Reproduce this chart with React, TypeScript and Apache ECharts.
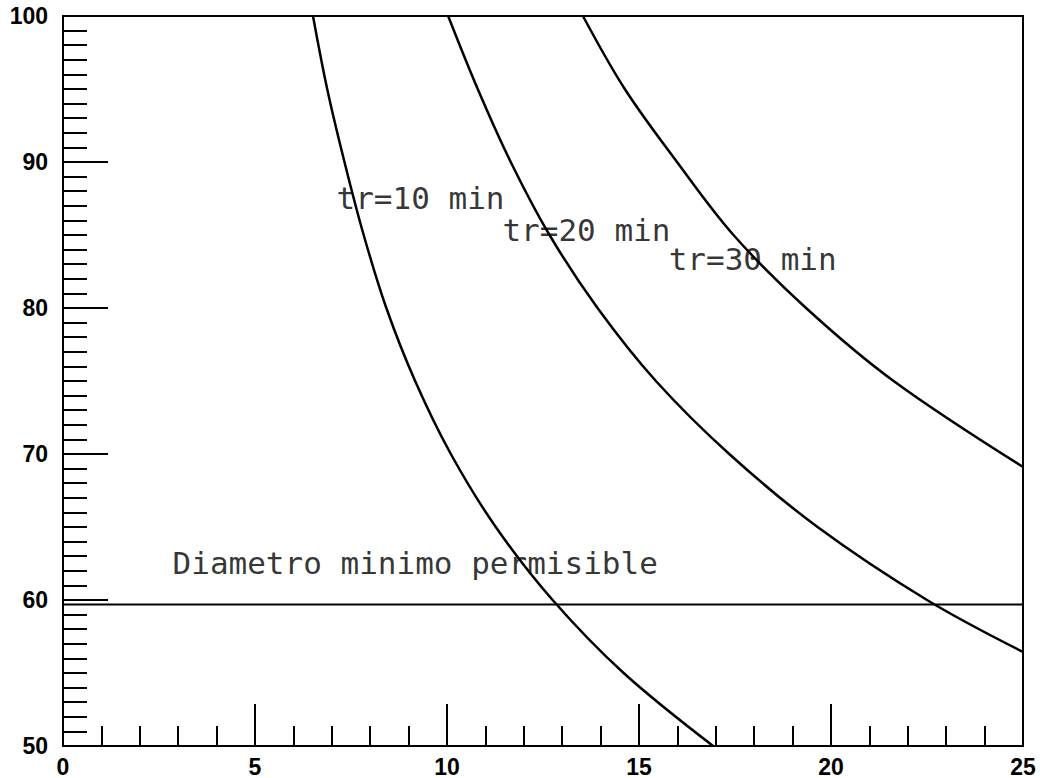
import React, { useEffect, useRef } from "react";
import * as echarts from "echarts";

// Curve tr=10 min (read as x at given diameter levels)
const tr10Y = [100, 95, 90, 85, 80, 75, 70, 65, 60, 55, 50];
const tr10X = [6.51, 6.88, 7.33, 7.83, 8.42, 9.17, 10.1, 11.27, 12.75, 14.6, 16.93];

// Curve tr=20 min
const tr20Y = [100, 95, 90, 85, 80, 75, 70, 65, 60, 56.44];
const tr20X = [10.03, 10.8, 11.66, 12.67, 13.92, 15.44, 17.35, 19.65, 22.5, 25.0];

// Curve tr=30 min
const tr30Y = [100, 95, 90, 85, 80, 75, 69.11];
const tr30X = [13.54, 14.63, 15.99, 17.46, 19.35, 21.63, 25.0];

// Minimum permissible diameter
const minDiameter = 59.7;
const xRange = [0, 25];

// Annotation labels
const annotationNames = ["tr=10 min", "tr=20 min", "tr=30 min", "Diametro minimo permisible"];
const annotationX = [7.11, 11.43, 15.76, 2.84];
const annotationY = [87.53, 85.34, 83.36, 62.53];

const zip = (xs: number[], ys: number[]) => xs.map((x, i) => [x, ys[i]]);

export default function App() {
  const ref = useRef<HTMLDivElement>(null);

  useEffect(() => {
    if (!ref.current) return;
    const chart = echarts.init(ref.current, undefined, { renderer: "svg" });

    const curve = (name: string, xs: number[], ys: number[]) => ({
      name,
      type: "line",
      data: zip(xs, ys),
      smooth: 0.35,
      showSymbol: false,
      lineStyle: { color: "#000", width: 2.5 },
      silent: true,
    });

    const labelFont = {
      color: "#000",
      fontSize: 23,
      fontWeight: "bold" as const,
      fontFamily: "Liberation Sans, Arial, sans-serif",
    };

    chart.setOption({
      animation: false,
      backgroundColor: "#fff",
      grid: {
        left: 63,
        right: 17,
        top: 16,
        bottom: 32,
        show: true,
        borderColor: "#000",
        borderWidth: 2,
        containLabel: false,
      },
      xAxis: {
        type: "value",
        min: 0,
        max: 25,
        interval: 5,
        axisLine: { show: true, lineStyle: { color: "#000", width: 2 } },
        axisTick: { show: true, inside: true, length: 42, lineStyle: { color: "#000", width: 2 } },
        minorTick: { show: true, splitNumber: 5, length: 20, lineStyle: { color: "#000", width: 2 } },
        splitLine: { show: false },
        minorSplitLine: { show: false },
        axisLabel: { ...labelFont, margin: 9 },
      },
      yAxis: {
        type: "value",
        min: 50,
        max: 100,
        interval: 10,
        axisLine: { show: true, lineStyle: { color: "#000", width: 2 } },
        axisTick: { show: true, inside: true, length: 45, lineStyle: { color: "#000", width: 2 } },
        minorTick: { show: true, splitNumber: 10, length: 24, lineStyle: { color: "#000", width: 2 } },
        splitLine: { show: false },
        minorSplitLine: { show: false },
        axisLabel: { ...labelFont, margin: 15 },
      },
      series: [
        curve("tr=10 min", tr10X, tr10Y),
        curve("tr=20 min", tr20X, tr20Y),
        curve("tr=30 min", tr30X, tr30Y),
        {
          name: "Diametro minimo permisible",
          type: "line",
          data: xRange.map((x) => [x, minDiameter]),
          showSymbol: false,
          lineStyle: { color: "#000", width: 2 },
          silent: true,
        },
        {
          name: "annotations",
          type: "scatter",
          data: annotationNames.map((n, i) => ({ name: n, value: [annotationX[i], annotationY[i]] })),
          symbol: "circle",
          symbolSize: 1,
          itemStyle: { color: "rgba(0,0,0,0)" },
          silent: true,
          label: {
            show: true,
            position: "right",
            distance: 0,
            formatter: (p: any) => p.name,
            color: "#000",
            fontSize: 31,
            fontFamily: "DejaVu Sans Mono, Liberation Mono, monospace",
          },
        },
      ],
    });

    return () => chart.dispose();
  }, []);

  return (
    <div
      ref={ref}
      style={{ position: "fixed", left: 0, top: 0, width: 1040, height: 778, background: "#fff" }}
    />
  );
}
